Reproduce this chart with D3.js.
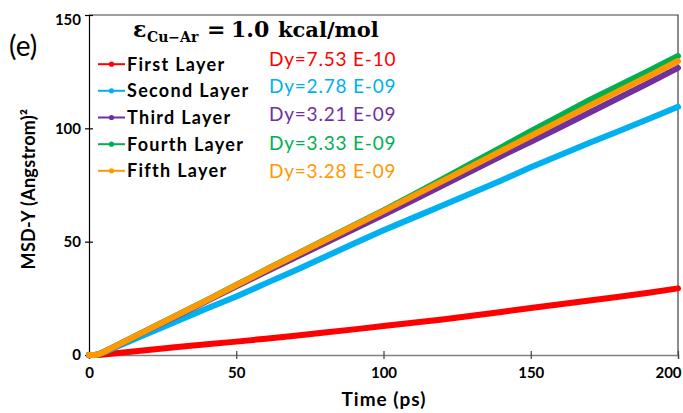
<!DOCTYPE html>
<html><head><meta charset="utf-8">
<script src="https://cdn.jsdelivr.net/npm/d3@7"></script>
<style>
body{margin:0;background:#fff;}
svg{display:block;font-family:Lato,"Open Sans",sans-serif;}
</style></head>
<body><svg id="c" width="683" height="413"></svg>
<script>
const time =   [0, 1, 2, 3, 5, 10, 20, 30, 40, 50, 60, 70, 80, 90, 100, 110, 120, 130, 140, 150, 160, 170, 180, 190, 200];
const first =  [0, 0, 0, 0, 0.2, 0.9, 2.2, 3.5, 4.7, 5.9, 7.2, 8.5, 9.9, 11.3, 12.8, 14.2, 15.7, 17.3, 19.0, 20.7, 22.4, 24.0, 25.7, 27.5, 29.4];
const second = [0, 0, 0, 0.2, 1.1, 4.0, 9.5, 15.0, 20.5, 25.8, 31.6, 37.3, 43.2, 49.2, 55.0, 60.5, 66.0, 71.5, 77.0, 82.8, 88.2, 93.6, 98.8, 104.1, 109.5];
const third =  [0, 0, 0, 0.2, 1.3, 4.5, 11.0, 17.3, 23.8, 30.3, 36.7, 43.0, 49.3, 55.6, 61.9, 68.2, 74.8, 81.3, 87.8, 94.1, 100.5, 107.0, 113.5, 120.0, 126.7];
const fourth = [0, 0, 0, 0.2, 1.3, 4.6, 11.2, 17.7, 24.2, 30.9, 37.6, 44.2, 50.8, 57.3, 63.8, 70.6, 77.6, 84.6, 91.6, 98.8, 105.6, 112.5, 118.9, 125.3, 131.9];
const fifth =  [0, 0, 0, 0.2, 1.3, 4.6, 11.1, 17.6, 24.1, 30.8, 37.5, 44.0, 50.5, 57.0, 63.5, 70.1, 76.7, 83.3, 90.0, 96.6, 103.3, 110.0, 116.5, 123.0, 129.7];
const names =  ["First Layer", "Second Layer", "Third Layer", "Fourth Layer", "Fifth Layer"];
const dyLabels = ["Dy=7.53 E-10", "Dy=2.78 E-09", "Dy=3.21 E-09", "Dy=3.33 E-09", "Dy=3.28 E-09"];
const colors = ["#ff0000", "#00b0f0", "#7030a0", "#00b050", "#ff9900"];
const xTicks = [0, 50, 100, 150, 200];
const yTicks = [0, 50, 100, 150];

const series = [first, second, third, fourth, fifth];
const svg = d3.select("#c");
const x = d3.scaleLinear().domain([0, 200]).range([89, 678]);
const y = d3.scaleLinear().domain([0, 150]).range([355, 15]);

// frame (top and right)
svg.append("path").attr("d", `M${x(0)},${y(150)}H${x(200)}V${y(0)}`)
  .attr("fill", "none").attr("stroke", "#404040").attr("stroke-width", 1.2);

// bottom axis
const gx = svg.append("g").attr("transform", `translate(0,${y(0)})`)
  .call(d3.axisBottom(x).tickValues(xTicks).tickSizeOuter(0).tickSize(4));
gx.select(".domain").attr("stroke", "#808080").attr("stroke-width", 1.5);
gx.selectAll(".tick line").attr("y1", -4).attr("y2", 4).attr("stroke", "#404040").attr("stroke-width", 1.2);
gx.selectAll(".tick text").attr("y", 23).attr("dy", null)
  .attr("font-family", "Lato").attr("font-weight", "bold").attr("font-size", 15).attr("fill", "#000")
  .attr("x", d => d === 200 ? -10 : 0);

// left axis
const gy = svg.append("g").attr("transform", `translate(${x(0)},0)`)
  .call(d3.axisLeft(y).tickValues(yTicks).tickSizeOuter(0).tickSize(4));
gy.select(".domain").attr("stroke", "#000").attr("stroke-width", 1.2);
gy.selectAll(".tick line").attr("x1", -4).attr("x2", 4).attr("stroke", "#000").attr("stroke-width", 1.2);
gy.selectAll(".tick text").attr("x", -8)
  .attr("font-family", "Lato").attr("font-weight", "bold").attr("font-size", 15).attr("fill", "#000")
  .attr("dy", d => d === 150 ? "0.62em" : "0.32em");

// lines
const line = d3.line().x((d, i) => x(time[i])).y(d => y(d));
series.forEach((s, k) => {
  svg.append("path").datum(s).attr("d", line)
    .attr("fill", "none").attr("stroke", colors[k]).attr("stroke-width", 6)
    .attr("stroke-linecap", "round").attr("stroke-linejoin", "round");
});

// axis titles
svg.append("text").attr("x", 384).attr("y", 406).attr("text-anchor", "middle")
  .attr("font-weight", "bold").attr("font-size", 19).attr("letter-spacing", 1).text("Time (ps)");
svg.append("text").attr("transform", "translate(35,189) rotate(-90)").attr("text-anchor", "middle")
  .attr("font-weight", "bold").attr("font-size", 18).attr("letter-spacing", 0.3).text("MSD-Y (Angstrom)²");

// (e)
svg.append("text").attr("x", 9).attr("y", 56).attr("font-size", 28).attr("font-family", "Lato").text("(e)");

// title
const tf = "'DejaVu Serif','Liberation Serif',serif";
const tg = svg.append("g").attr("font-family", tf).attr("font-weight", "bold").attr("fill", "#000");
tg.append("text").attr("x", 133).attr("y", 37).attr("font-size", 22).text("ε");
tg.append("text").attr("x", 147).attr("y", 42).attr("font-size", 14).text("Cu−Ar");
tg.append("text").attr("x", 207).attr("y", 37).attr("font-size", 22).text("=");
tg.append("text").attr("x", 231).attr("y", 37).attr("font-size", 22).text("1.0");
tg.append("text").attr("x", 278).attr("y", 37).attr("font-size", 21).text("kcal/mol");

// legend
const legBase = [70.7, 97.3, 124, 150.7, 177.3];
const dyBase = [65.5, 93.3, 121, 149.5, 177.5];
names.forEach((n, k) => {
  const cy = legBase[k] - 6.5;
  svg.append("line").attr("x1", 98).attr("x2", 125).attr("y1", cy).attr("y2", cy)
    .attr("stroke", colors[k]).attr("stroke-width", 2);
  svg.append("circle").attr("cx", 111.5).attr("cy", cy).attr("r", 2.6).attr("fill", colors[k]);
  svg.append("text").attr("x", 127).attr("y", legBase[k]).attr("font-weight", "bold")
    .attr("font-size", 18).attr("letter-spacing", 1.3).attr("fill", "#000").text(n);
  svg.append("text").attr("x", 269).attr("y", dyBase[k]).attr("font-size", 19)
    .attr("letter-spacing", 0.8).attr("fill", colors[k]).text(dyLabels[k]);
});
</script></body></html>
